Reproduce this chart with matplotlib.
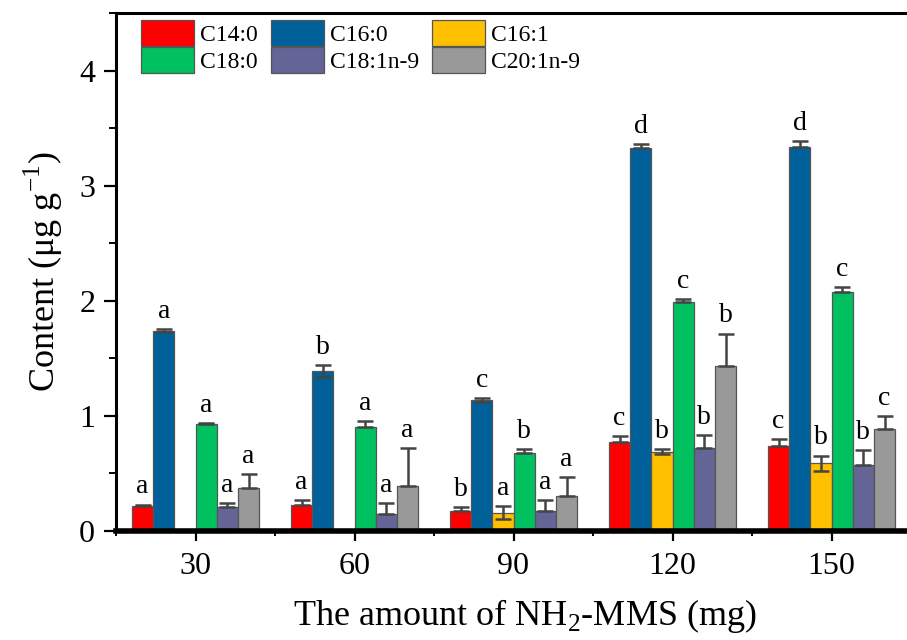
import matplotlib
matplotlib.use("Agg")
import matplotlib.pyplot as plt
from matplotlib.ticker import MultipleLocator
import numpy as np

plt.rcParams['font.family'] = ['Liberation Serif', 'DejaVu Serif']
plt.rcParams['mathtext.fontset'] = 'custom'
plt.rcParams['mathtext.rm'] = 'Liberation Serif'

amounts = [30, 60, 90, 120, 150]
series = ["C14:0", "C16:0", "C16:1", "C18:0", "C18:1n-9", "C20:1n-9"]
colors = ["#FF0000", "#00609A", "#FFC000", "#00C060", "#646497", "#999999"]

c14_0 = [0.22, 0.23, 0.17, 0.77, 0.74]
c16_0 = [1.74, 1.39, 1.14, 3.33, 3.34]
c16_1 = [0.0, 0.0, 0.16, 0.69, 0.59]
c18_0 = [0.93, 0.90, 0.68, 1.99, 2.08]
c18_1 = [0.21, 0.15, 0.17, 0.725, 0.575]
c20_1 = [0.37, 0.39, 0.30, 1.435, 0.89]

c14_0_err = [0.01, 0.035, 0.04, 0.058, 0.058]
c16_0_err = [0.015, 0.055, 0.015, 0.03, 0.05]
c16_1_err = [0.0, 0.0, 0.055, 0.02, 0.065]
c18_0_err = [0.01, 0.058, 0.03, 0.025, 0.04]
c18_1_err = [0.03, 0.09, 0.095, 0.11, 0.13]
c20_1_err = [0.127, 0.33, 0.17, 0.28, 0.11]

c16_0_err_low = [0.015, 0.055, 0.015, 0.0, 0.0]
c16_1_err_low = [0.0, 0.0, 0.055, 0.02, 0.065]

c14_0_let = ["a", "a", "b", "c", "c"]
c16_0_let = ["a", "b", "c", "d", "d"]
c16_1_let = ["", "", "a", "b", "b"]
c18_0_let = ["a", "a", "b", "c", "c"]
c18_1_let = ["a", "a", "a", "b", "b"]
c20_1_let = ["a", "a", "a", "b", "c"]

values = [c14_0, c16_0, c16_1, c18_0, c18_1, c20_1]
errs_up = [c14_0_err, c16_0_err, c16_1_err, c18_0_err, c18_1_err, c20_1_err]
zeros = [0.0] * len(amounts)
errs_low = [zeros, c16_0_err_low, c16_1_err_low, zeros, zeros, zeros]
letters = [c14_0_let, c16_0_let, c16_1_let, c18_0_let, c18_1_let, c20_1_let]

W, H = 907, 640
fig = plt.figure(figsize=(W / 100, H / 100), dpi=100)
ax_l, ax_r, ax_b, ax_t = 116 / W, 911 / W, 1 - 531 / H, 1 - 13 / H
ax = fig.add_axes([ax_l, ax_b, ax_r - ax_l, ax_t - ax_b])

bw = 4.0
x = np.array(amounts, dtype=float)
handles = []
for i, (name, col) in enumerate(zip(series, colors)):
    off = (i - 2.5) * bw
    v = np.array(values[i])
    h = ax.bar(x + off, v, width=bw, color=col, edgecolor="#555555",
               linewidth=0.9, label=name, zorder=2)
    handles.append(h)
    mask = v > 0
    ax.errorbar((x + off)[mask], v[mask],
                yerr=[np.array(errs_low[i])[mask], np.array(errs_up[i])[mask]],
                fmt="none", ecolor="#444444", elinewidth=1.8, capsize=5.5,
                capthick=1.8, zorder=3)
    for j in range(len(amounts)):
        if letters[i][j]:
            ax.annotate(letters[i][j], (x[j] + off, v[j] + errs_up[i][j]),
                        xytext=(0, 8), textcoords="offset points",
                        ha="center", va="baseline", fontsize=20, zorder=4)

ax.set_xlim(15, 165)
ax.set_ylim(0, 4.5)
ax.set_xticks(amounts)
ax.set_xticklabels([str(a) for a in amounts])
ax.set_xticks([15, 45, 75, 105, 135], minor=True)
ax.set_yticks([0, 1, 2, 3, 4])
ax.yaxis.set_minor_locator(MultipleLocator(0.5))

ax.tick_params(axis="x", which="major", direction="out", length=7, width=1.6,
               labelsize=23, pad=8)
ax.tick_params(axis="x", which="minor", direction="out", length=3.5, width=1.4)
ax.tick_params(axis="y", which="major", direction="out", length=9, width=1.6,
               labelsize=23, pad=6)
ax.tick_params(axis="y", which="minor", direction="out", length=5, width=1.4)

ax.spines["right"].set_visible(False)
ax.spines["left"].set_linewidth(2.2)
ax.spines["top"].set_linewidth(2.2)
ax.spines["bottom"].set_linewidth(4.0)

ax.set_ylabel("Content (μg g$^{\\mathregular{-1}}$)", fontsize=26, labelpad=10)
ax.set_xlabel("The amount of NH$_{\\mathregular{2}}$-MMS (mg)", fontsize=26)
ax.xaxis.set_label_coords((525 - 116) / (911 - 116), -(616 - 531) / (531 - 13))
ax.xaxis.label.set_va("center")

order = [0, 3, 1, 4, 2, 5]
leg = ax.legend([handles[k] for k in order], [series[k] for k in order],
                ncol=3, loc="upper left", frameon=False,
                bbox_to_anchor=(141 / W, 1 - 20 / H),
                bbox_transform=fig.transFigure, borderaxespad=0, borderpad=0,
                fontsize=17, handlelength=2.25, handleheight=1.3,
                handletextpad=0.25, labelspacing=0.05, columnspacing=0.55)

fig.savefig("out.png", dpi=100)
